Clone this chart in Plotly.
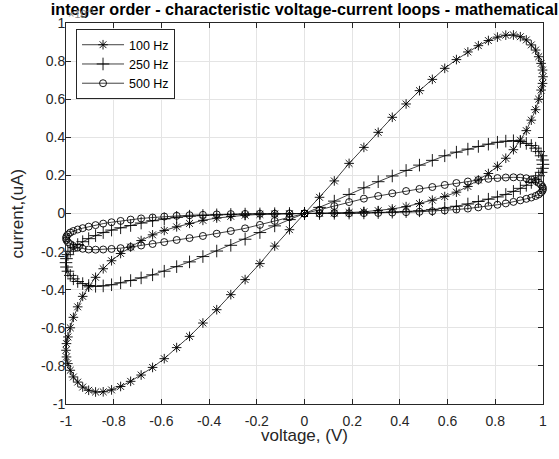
import plotly.graph_objects as go

# voltage samples (V), shared by all three loops
voltage = [0.000, 0.063, 0.125, 0.187, 0.249, 0.309, 0.368, 0.426, 0.482, 0.536,
           0.588, 0.637, 0.685, 0.729, 0.771, 0.809, 0.844, 0.876, 0.905, 0.930,
           0.951, 0.969, 0.982, 0.992, 0.998, 1.000, 0.998, 0.992, 0.982, 0.969,
           0.951, 0.930, 0.905, 0.876, 0.844, 0.809, 0.771, 0.729, 0.685, 0.637,
           0.588, 0.536, 0.482, 0.426, 0.368, 0.309, 0.249, 0.187, 0.125, 0.063,
           0.000, -0.063, -0.125, -0.187, -0.249, -0.309, -0.368, -0.426, -0.482, -0.536,
           -0.588, -0.637, -0.685, -0.729, -0.771, -0.809, -0.844, -0.876, -0.905, -0.930,
           -0.951, -0.969, -0.982, -0.992, -0.998, -1.000, -0.998, -0.992, -0.982, -0.969,
           -0.951, -0.930, -0.905, -0.876, -0.844, -0.809, -0.771, -0.729, -0.685, -0.637,
           -0.588, -0.536, -0.482, -0.426, -0.368, -0.309, -0.249, -0.187, -0.125, -0.063,
           0.000]

# current (uA) for each frequency
current_100hz = [0.000, 0.085, 0.171, 0.263, 0.347, 0.426, 0.505, 0.575, 0.645, 0.704,
                 0.762, 0.808, 0.848, 0.881, 0.908, 0.926, 0.936, 0.937, 0.928, 0.911,
                 0.885, 0.858, 0.823, 0.788, 0.753, 0.718, 0.683, 0.648, 0.600, 0.545,
                 0.490, 0.435, 0.385, 0.335, 0.290, 0.248, 0.210, 0.176, 0.142, 0.112,
                 0.089, 0.070, 0.052, 0.036, 0.024, 0.015, 0.009, 0.005, 0.002, 0.001,
                 0.000, -0.085, -0.171, -0.263, -0.347, -0.426, -0.505, -0.575, -0.645, -0.704,
                 -0.762, -0.808, -0.848, -0.881, -0.908, -0.926, -0.936, -0.937, -0.928, -0.911,
                 -0.885, -0.858, -0.823, -0.788, -0.753, -0.718, -0.683, -0.648, -0.600, -0.545,
                 -0.490, -0.435, -0.385, -0.335, -0.290, -0.248, -0.210, -0.176, -0.142, -0.112,
                 -0.089, -0.070, -0.052, -0.036, -0.024, -0.015, -0.009, -0.005, -0.002, -0.001,
                 0.000]

current_250hz = [0.000, 0.032, 0.065, 0.100, 0.135, 0.167, 0.197, 0.226, 0.254, 0.279,
                 0.303, 0.322, 0.338, 0.352, 0.364, 0.374, 0.380, 0.382, 0.378, 0.368,
                 0.357, 0.343, 0.325, 0.303, 0.281, 0.258, 0.237, 0.216, 0.198, 0.180,
                 0.163, 0.148, 0.132, 0.116, 0.100, 0.087, 0.075, 0.063, 0.050, 0.038,
                 0.028, 0.020, 0.014, 0.010, 0.007, 0.005, 0.003, 0.002, 0.001, 0.000,
                 0.000, -0.032, -0.065, -0.100, -0.135, -0.167, -0.197, -0.226, -0.254, -0.279,
                 -0.303, -0.322, -0.338, -0.352, -0.364, -0.374, -0.380, -0.382, -0.378, -0.368,
                 -0.357, -0.343, -0.325, -0.303, -0.281, -0.258, -0.237, -0.216, -0.198, -0.180,
                 -0.163, -0.148, -0.132, -0.116, -0.100, -0.087, -0.075, -0.063, -0.050, -0.038,
                 -0.028, -0.020, -0.014, -0.010, -0.007, -0.005, -0.003, -0.002, -0.001, 0.000,
                 0.000]

current_500hz = [0.000, 0.020, 0.039, 0.060, 0.078, 0.092, 0.106, 0.118, 0.129, 0.139,
                 0.150, 0.160, 0.168, 0.176, 0.182, 0.186, 0.189, 0.190, 0.189, 0.185,
                 0.179, 0.171, 0.161, 0.150, 0.140, 0.130, 0.120, 0.110, 0.100, 0.092,
                 0.084, 0.077, 0.069, 0.061, 0.053, 0.046, 0.039, 0.032, 0.026, 0.021,
                 0.016, 0.012, 0.009, 0.007, 0.005, 0.003, 0.002, 0.001, 0.001, 0.000,
                 0.000, -0.020, -0.039, -0.060, -0.078, -0.092, -0.106, -0.118, -0.129, -0.139,
                 -0.150, -0.160, -0.168, -0.176, -0.182, -0.186, -0.189, -0.190, -0.189, -0.185,
                 -0.179, -0.171, -0.161, -0.150, -0.140, -0.130, -0.120, -0.110, -0.100, -0.092,
                 -0.084, -0.077, -0.069, -0.061, -0.053, -0.046, -0.039, -0.032, -0.026, -0.021,
                 -0.016, -0.012, -0.009, -0.007, -0.005, -0.003, -0.002, -0.001, -0.001, 0.000,
                 0.000]

series_names = ["100 Hz", "250 Hz", "500 Hz"]
tick_vals = [-1, -0.8, -0.6, -0.4, -0.2, 0, 0.2, 0.4, 0.6, 0.8, 1]
tick_text = ["-1", "-0.8", "-0.6", "-0.4", "-0.2", "0", "0.2", "0.4", "0.6", "0.8", "1"]

title_text = "integer order - characteristic voltage-current loops - mathematical"
x_label = "voltage, (V)"
y_label = "current,(uA)"

FONT = "Liberation Sans, Arial, Helvetica, sans-serif"
AX = "#262626"

symbols = ["asterisk-open", "cross-thin-open", "circle-open"]
sizes = [8, 9, 7]
currents = [current_100hz, current_250hz, current_500hz]

fig = go.Figure()
for name, cur, sym, sz in zip(series_names, currents, symbols, sizes):
    fig.add_trace(go.Scatter(
        x=voltage, y=cur, name=name, mode="lines+markers",
        line=dict(color="#111111", width=0.8),
        marker=dict(symbol=sym, size=sz, color="black",
                    line=dict(color="black", width=0.9)),
        cliponaxis=False,
    ))

axis_common = dict(
    range=[-1, 1], tickmode="array", tickvals=tick_vals, ticktext=tick_text,
    showgrid=True, gridcolor="#e4e4e4", gridwidth=1, zeroline=False,
    showline=True, linecolor=AX, linewidth=1, mirror="ticks",
    ticks="inside", ticklen=5, tickwidth=1, tickcolor=AX,
    tickfont=dict(family=FONT, size=14, color=AX),
    fixedrange=True,
)

fig.update_layout(
    width=559, height=459,
    margin=dict(l=66, r=13, t=23, b=55),
    paper_bgcolor="white", plot_bgcolor="white",
    showlegend=True,
    xaxis=dict(**axis_common, ticklabelstandoff=4),
    yaxis=dict(**axis_common, ticklabelstandoff=-3),
    title=dict(text="<b>" + title_text + "</b>", x=0.5, xref="paper",
               y=1 - 3.5 / 459, yref="container", yanchor="top",
               font=dict(family=FONT, size=16.2, color="black")),
    legend=dict(x=0.021, y=0.984, xanchor="left", yanchor="top",
                bgcolor="white", bordercolor=AX, borderwidth=1,
                font=dict(family=FONT, size=12.5, color="black"),
                itemwidth=42, tracegroupgap=0),
    annotations=[
        dict(text="×10<sup>-6</sup>", x=0, xref="paper", xanchor="left",
             y=1, yref="paper", yanchor="bottom", yshift=1, showarrow=False,
             font=dict(family=FONT, size=11, color="#8a8a8a")),
        dict(text=x_label, x=0.5, xref="paper", xanchor="center",
             y=-(435 - 404) / 381, yref="paper", yanchor="middle", showarrow=False,
             font=dict(family=FONT, size=17, color=AX)),
        dict(text=y_label, x=(16.7 - 66) / 480, xref="paper", xanchor="center",
             y=0.5, yref="paper", yanchor="middle", textangle=-90, showarrow=False,
             font=dict(family=FONT, size=17, color=AX)),
    ],
)

fig.write_html("out.html")
